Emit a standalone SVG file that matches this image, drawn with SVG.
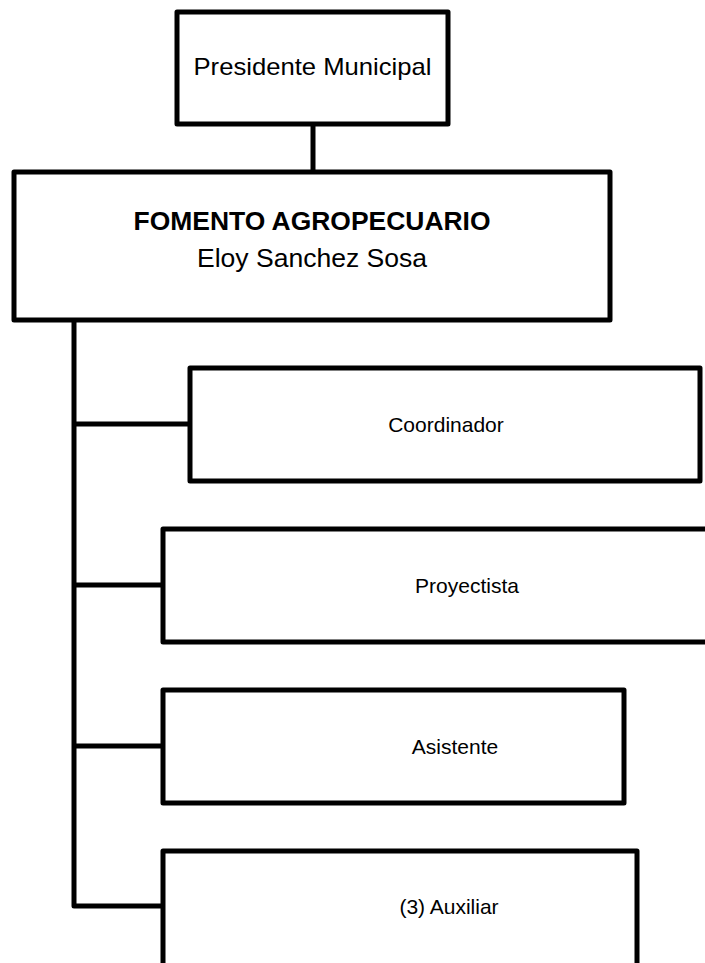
<svg xmlns="http://www.w3.org/2000/svg" width="705" height="963" viewBox="0 0 705 963">
<style>
.box{fill:#fff;stroke:#000;stroke-width:5;stroke-linejoin:round}
.ln{fill:none;stroke:#000;stroke-width:5;stroke-linejoin:round}
.t{font-family:"Liberation Sans",Arial,sans-serif;fill:#000;text-anchor:middle}
.s{font-size:21px}
</style>
<rect width="705" height="963" fill="#fff"/>
<g id="connectors">
<line class="ln" x1="313" y1="124" x2="313" y2="172"/>
<polyline class="ln" points="74,320 74,906 163,906"/>
<line class="ln" x1="74" y1="424" x2="190" y2="424"/>
<line class="ln" x1="74" y1="585" x2="163" y2="585"/>
<line class="ln" x1="74" y1="746" x2="163" y2="746"/>
</g>
<g id="presidente">
<rect class="box" x="177" y="12" width="271" height="112"/>
<text class="t" x="312.5" y="75" font-size="24" textLength="238" lengthAdjust="spacingAndGlyphs">Presidente Municipal</text>
</g>
<g id="fomento">
<rect class="box" x="14" y="172" width="596" height="148"/>
<text class="t" x="312" y="230" font-size="25" font-weight="bold" textLength="357" lengthAdjust="spacingAndGlyphs">FOMENTO AGROPECUARIO</text>
<text class="t" x="312" y="267" font-size="26" textLength="230" lengthAdjust="spacingAndGlyphs">Eloy Sanchez Sosa</text>
</g>
<g id="coordinador">
<rect class="box" x="190" y="368" width="510" height="113"/>
<text class="t s" x="446" y="432">Coordinador</text>
</g>
<g id="proyectista">
<rect class="box" x="163" y="529" width="600" height="113"/>
<text class="t s" x="467" y="593">Proyectista</text>
</g>
<g id="asistente">
<rect class="box" x="163" y="690" width="461" height="113"/>
<text class="t s" x="455" y="754">Asistente</text>
</g>
<g id="auxiliar">
<rect class="box" x="163" y="851" width="474" height="150"/>
<text class="t s" x="449" y="914">(3) Auxiliar</text>
</g>
</svg>
